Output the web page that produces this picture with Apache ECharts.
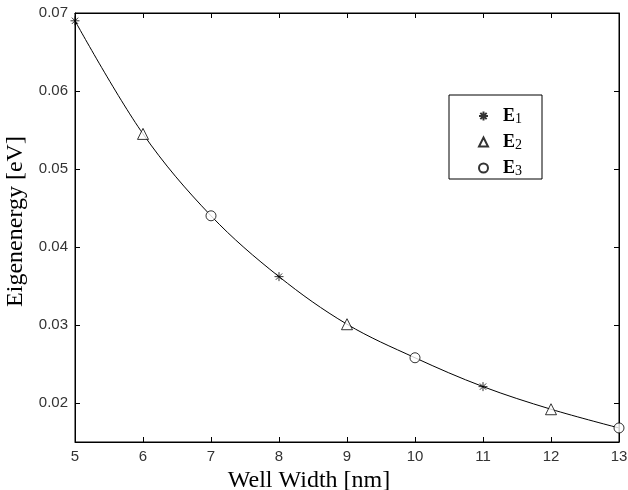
<!DOCTYPE html>
<html>
<head>
<meta charset="utf-8">
<script src="https://cdn.jsdelivr.net/npm/echarts@6/dist/echarts.min.js"></script>
<style>html,body{margin:0;padding:0;background:#fff;}#c{width:628px;height:490px;}</style>
</head>
<body>
<div id="c"></div>
<script>
// Data
var wellWidths = [5, 6, 7, 8, 9, 10, 11, 12, 13];
var eigenEnergies = [0.069, 0.0545, 0.044, 0.0362, 0.0301, 0.0258, 0.0221, 0.0192, 0.0168];
var levels = [1, 2, 3, 1, 2, 3, 1, 2, 3];
var levelNames = ['E1', 'E2', 'E3'];
var xTicks = [5, 6, 7, 8, 9, 10, 11, 12, 13];
var yTicks = [0.02, 0.03, 0.04, 0.05, 0.06, 0.07];

function pointsFor(level) {
  var out = [];
  for (var i = 0; i < wellWidths.length; i++) {
    if (levels[i] === level) out.push([wellWidths[i], eigenEnergies[i]]);
  }
  return out;
}
var curve = wellWidths.map(function (w, i) { return [w, eigenEnergies[i]]; });

var starPath = 'path://M5,0L5,10M0,5L10,5M1.5,1.5L8.5,8.5M1.5,8.5L8.5,1.5';
var symbols = [starPath, 'triangle', 'circle'];
var sizes = [9, 11, 10];

var chart = echarts.init(document.getElementById('c'), null, {renderer: 'canvas'});
var labelStyle = {color: '#333', fontFamily: 'Liberation Sans', fontSize: 15};

var scatterSeries = [1, 2, 3].map(function (lv, k) {
  return {
    name: levelNames[k],
    type: 'scatter',
    data: pointsFor(lv),
    symbol: symbols[k],
    symbolSize: sizes[k],
    itemStyle: {color: k === 0 ? '#000' : '#fff', borderColor: '#000', borderWidth: 1},
    z: 5
  };
});

chart.setOption({
  animation: false,
  backgroundColor: '#fff',
  grid: {left: 75, right: 9, top: 13, bottom: 48, show: true, borderColor: '#000', borderWidth: 1,
         containLabel: false, outerBoundsMode: 'none'},
  legend: {
    orient: 'vertical',
    left: 449,
    top: 95,
    padding: [11, 20, 1, 29],
    itemGap: 6,
    itemWidth: 9,
    itemHeight: 9,
    backgroundColor: '#fff',
    borderColor: '#000',
    borderWidth: 1,
    data: levelNames,
    formatter: function (n) { return '{e|E}{s|' + n.slice(1) + '}'; },
    textStyle: {
      padding: [0, 0, 0, 10],
      rich: {
        e: {fontFamily: 'Liberation Serif', fontWeight: 'bold', fontSize: 18, color: '#000', lineHeight: 21},
        s: {fontFamily: 'Liberation Serif', fontSize: 14, color: '#000', lineHeight: 21, padding: [6, 0, 0, 0]}
      }
    }
  },
  xAxis: [{
    type: 'value', min: 5, max: 13, interval: 1,
    name: 'Well Width [nm]', nameLocation: 'middle', nameGap: 19,
    nameTextStyle: {fontFamily: 'Liberation Serif', fontSize: 24, color: '#000', padding: [0, 76, 0, 0]},
    axisLine: {lineStyle: {color: '#000'}},
    axisTick: {inside: true, length: 5, lineStyle: {color: '#000'}},
    axisLabel: Object.assign({margin: 7}, labelStyle),
    splitLine: {show: false}
  }, {
    type: 'value', min: 5, max: 13, interval: 1, position: 'top',
    axisLine: {lineStyle: {color: '#000'}},
    axisTick: {inside: true, length: 5, lineStyle: {color: '#000'}},
    axisLabel: {show: false}, splitLine: {show: false}
  }],
  yAxis: [{
    type: 'value', min: 0.015, max: 0.07,
    name: 'Eigenenergy [eV]', nameLocation: 'middle', nameGap: 43, nameRotate: 90,
    nameTextStyle: {fontFamily: 'Liberation Serif', fontSize: 24, color: '#000', padding: [0, 0, 0, 12]},
    axisLine: {lineStyle: {color: '#000'}},
    axisTick: {inside: true, length: 5, customValues: yTicks, lineStyle: {color: '#000'}},
    axisLabel: Object.assign({margin: 7, customValues: yTicks}, labelStyle),
    splitLine: {show: false}
  }, {
    type: 'value', min: 0.015, max: 0.07, position: 'right',
    axisLine: {lineStyle: {color: '#000'}},
    axisTick: {inside: true, length: 5, customValues: yTicks, lineStyle: {color: '#000'}},
    axisLabel: {show: false, customValues: yTicks}, splitLine: {show: false}
  }],
  series: [{
    type: 'line',
    data: curve,
    smooth: 0.35,
    showSymbol: false,
    symbol: 'none',
    lineStyle: {color: '#000', width: 1},
    z: 3
  }].concat(scatterSeries)
});
</script>
</body>
</html>
